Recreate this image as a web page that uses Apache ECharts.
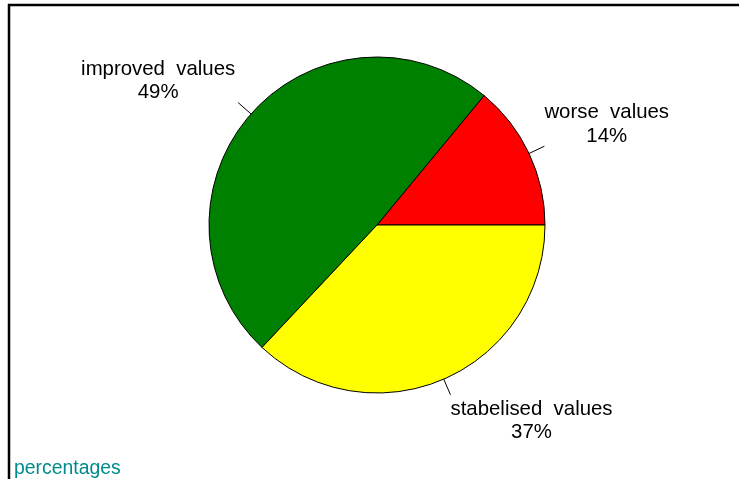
<!DOCTYPE html>
<html>
<head>
<meta charset="utf-8">
<script src="https://cdn.jsdelivr.net/npm/echarts@6/dist/echarts.min.js"></script>
<style>
html,body{margin:0;padding:0;background:#fff;}
#c{width:739px;height:479px;}
</style>
</head>
<body>
<div id="c"></div>
<script>
const categories = ['worse  values', 'improved  values', 'stabelised  values'];
const values = [14, 49, 37];
const colors = ['#FF0000', '#008000', '#FFFF00'];
const labelPads = [[0, 0, 44, 0], [0, 0, 44, 0], [52, 0, 0, 0]];
const labelGaps = [0, 3, 0];
const footnote = 'percentages';

const chart = echarts.init(document.getElementById('c'), null, {renderer: 'canvas'});
const FONT = '"Liberation Sans", Arial, Helvetica, sans-serif';

const data = categories.map((name, i) => ({
  name: name,
  value: values[i],
  itemStyle: {color: colors[i]},
  label: {padding: labelPads[i], distanceToLabelLine: labelGaps[i]}
}));

chart.setOption({
  animation: false,
  backgroundColor: '#ffffff',
  title: {
    text: footnote,
    left: 10,
    top: 459,
    padding: [0, 4, 0, 4],
    textStyle: {fontFamily: FONT, fontSize: 19.4, fontWeight: 'normal', color: '#008B8B'}
  },
  graphic: [
    {type: 'line', shape: {x1: 8, y1: 5, x2: 739, y2: 5}, style: {stroke: '#000', lineWidth: 2.5}},
    {type: 'line', shape: {x1: 9, y1: 4, x2: 9, y2: 479}, style: {stroke: '#000', lineWidth: 2.5}}
  ],
  series: [{
    type: 'pie',
    center: [377, 225],
    radius: 168,
    startAngle: 0,
    clockwise: false,
    avoidLabelOverlap: false,
    itemStyle: {borderColor: '#000', borderWidth: 1},
    emphasis: {disabled: true},
    label: {
      show: true,
      position: 'outside',
      distanceToLabelLine: 2,
      formatter: function (p) { return '{a|' + p.name + '}\n{a|' + p.value + '%}'; },
      rich: {
        a: {fontFamily: FONT, fontSize: 20.4, color: '#000', align: 'center', lineHeight: 23.5}
      }
    },
    labelLine: {
      show: true,
      length: 17,
      length2: 0,
      smooth: false,
      lineStyle: {color: '#000', width: 1}
    },
    data: data
  }]
});
</script>
</body>
</html>
